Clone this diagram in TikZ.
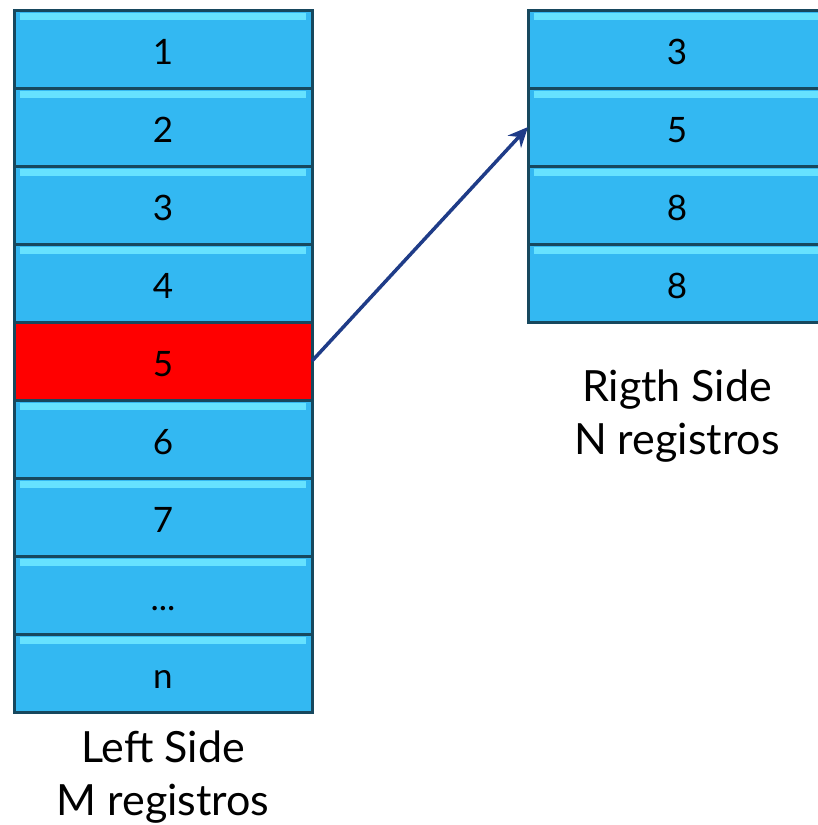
\documentclass[tikz,border=0pt]{standalone}
\usepackage{fontspec}
\setmainfont{Lato}
\usetikzlibrary{positioning}
\usetikzlibrary{arrows.meta}
\definecolor{cellblue}{HTML}{33B8F2}
\definecolor{cellshine}{HTML}{66E2FF}
\definecolor{celledge}{HTML}{17485E}
\definecolor{cellred}{HTML}{FF0000}
\definecolor{arrowblue}{HTML}{1F3C88}
\tikzset{
  cell/.style={rectangle,draw=celledge,line width=3pt,outer sep=0pt,
               minimum width=298pt,minimum height=78pt,inner sep=0pt,
               text height=31pt,text depth=0pt,
               font=\fontsize{35}{35}\selectfont},
  bluecell/.style={cell,fill=cellblue,
               path picture={\fill[cellshine]
                 ([xshift=6pt,yshift=-3pt]path picture bounding box.north west)
                 rectangle
                 ([xshift=-6pt,yshift=-10pt]path picture bounding box.north east);}},
  redcell/.style={cell,fill=cellred},
  sidelabel/.style={align=center,font=\fontsize{43}{53}\selectfont},
  linkarrow/.style={-{Stealth[length=20pt,width=18pt]},line width=3.5pt,
                    draw=arrowblue},
}

\begin{document}
\begin{tikzpicture}[x=1pt,y=-1pt,node distance=0pt]
  \useasboundingbox (0,0) rectangle (817,825);

  % left side
  \node[bluecell] (l1) at (163,49) {1};
  \node[bluecell] (l2) [below=of l1] {2};
  \node[bluecell] (l3) [below=of l2] {3};
  \node[bluecell] (l4) [below=of l3] {4};
  \node[redcell]  (l5) [below=of l4] {5};
  \node[bluecell] (l6) [below=of l5] {6};
  \node[bluecell] (l7) [below=of l6] {7};
  \node[bluecell] (l8) [below=of l7] {...};
  \node[bluecell] (l9) [below=of l8] {n};
  \node[sidelabel] (lleg) [below=15pt of l9] {Left Side\\M registros};

  % right side
  \node[bluecell] (r1) [right=216pt of l1] {3};
  \node[bluecell] (r2) [below=of r1] {5};
  \node[bluecell] (r3) [below=of r2] {8};
  \node[bluecell] (r4) [below=of r3] {8};
  \node[sidelabel] (rleg) [below=44pt of r4.south west,xshift=149pt]
      {Rigth Side\\N registros};

  \draw[linkarrow] (l5.east) -- (r2.west);
\end{tikzpicture}
\end{document}
